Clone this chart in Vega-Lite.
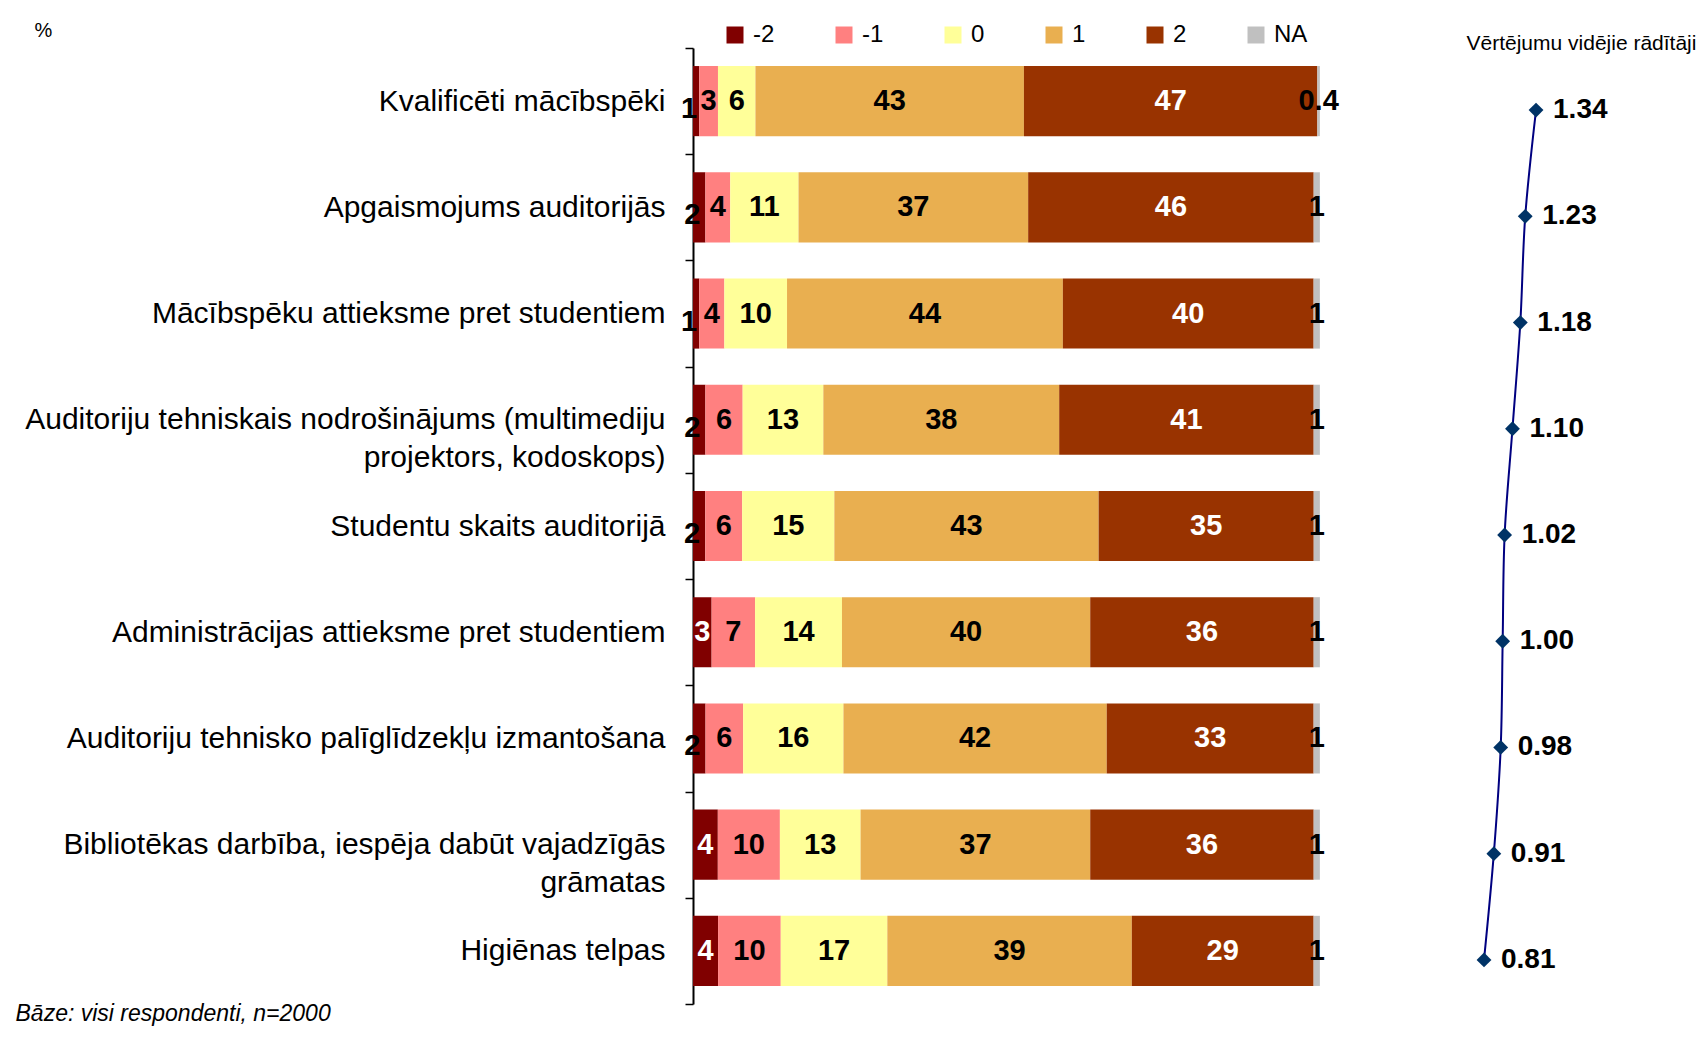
{
  "$schema": "https://vega.github.io/schema/vega-lite/v6.json",
  "width": 1003,
  "height": 956,
  "autosize": {"type": "none"},
  "padding": {"left": 693, "top": 48, "right": 0, "bottom": 51},
  "background": "white",
  "config": {"view": {"stroke": null}, "font": "Liberation Sans"},
  "datasets": {
    "bars": [
      {"row": "Kvalificēti mācībspēki", "cat": "-2", "value": 1},
      {"row": "Kvalificēti mācībspēki", "cat": "-1", "value": 3},
      {"row": "Kvalificēti mācībspēki", "cat": "0", "value": 6},
      {"row": "Kvalificēti mācībspēki", "cat": "1", "value": 43},
      {"row": "Kvalificēti mācībspēki", "cat": "2", "value": 47},
      {"row": "Kvalificēti mācībspēki", "cat": "NA", "value": 0.4},
      {"row": "Apgaismojums auditorijās", "cat": "-2", "value": 2},
      {"row": "Apgaismojums auditorijās", "cat": "-1", "value": 4},
      {"row": "Apgaismojums auditorijās", "cat": "0", "value": 11},
      {"row": "Apgaismojums auditorijās", "cat": "1", "value": 37},
      {"row": "Apgaismojums auditorijās", "cat": "2", "value": 46},
      {"row": "Apgaismojums auditorijās", "cat": "NA", "value": 1},
      {"row": "Mācībspēku attieksme pret studentiem", "cat": "-2", "value": 1},
      {"row": "Mācībspēku attieksme pret studentiem", "cat": "-1", "value": 4},
      {"row": "Mācībspēku attieksme pret studentiem", "cat": "0", "value": 10},
      {"row": "Mācībspēku attieksme pret studentiem", "cat": "1", "value": 44},
      {"row": "Mācībspēku attieksme pret studentiem", "cat": "2", "value": 40},
      {"row": "Mācībspēku attieksme pret studentiem", "cat": "NA", "value": 1},
      {"row": "Auditoriju tehniskais nodrošinājums (multimediju projektors, kodoskops)", "cat": "-2", "value": 2},
      {"row": "Auditoriju tehniskais nodrošinājums (multimediju projektors, kodoskops)", "cat": "-1", "value": 6},
      {"row": "Auditoriju tehniskais nodrošinājums (multimediju projektors, kodoskops)", "cat": "0", "value": 13},
      {"row": "Auditoriju tehniskais nodrošinājums (multimediju projektors, kodoskops)", "cat": "1", "value": 38},
      {"row": "Auditoriju tehniskais nodrošinājums (multimediju projektors, kodoskops)", "cat": "2", "value": 41},
      {"row": "Auditoriju tehniskais nodrošinājums (multimediju projektors, kodoskops)", "cat": "NA", "value": 1},
      {"row": "Studentu skaits auditorijā", "cat": "-2", "value": 2},
      {"row": "Studentu skaits auditorijā", "cat": "-1", "value": 6},
      {"row": "Studentu skaits auditorijā", "cat": "0", "value": 15},
      {"row": "Studentu skaits auditorijā", "cat": "1", "value": 43},
      {"row": "Studentu skaits auditorijā", "cat": "2", "value": 35},
      {"row": "Studentu skaits auditorijā", "cat": "NA", "value": 1},
      {"row": "Administrācijas attieksme pret studentiem", "cat": "-2", "value": 3},
      {"row": "Administrācijas attieksme pret studentiem", "cat": "-1", "value": 7},
      {"row": "Administrācijas attieksme pret studentiem", "cat": "0", "value": 14},
      {"row": "Administrācijas attieksme pret studentiem", "cat": "1", "value": 40},
      {"row": "Administrācijas attieksme pret studentiem", "cat": "2", "value": 36},
      {"row": "Administrācijas attieksme pret studentiem", "cat": "NA", "value": 1},
      {"row": "Auditoriju tehnisko palīglīdzekļu izmantošana", "cat": "-2", "value": 2},
      {"row": "Auditoriju tehnisko palīglīdzekļu izmantošana", "cat": "-1", "value": 6},
      {"row": "Auditoriju tehnisko palīglīdzekļu izmantošana", "cat": "0", "value": 16},
      {"row": "Auditoriju tehnisko palīglīdzekļu izmantošana", "cat": "1", "value": 42},
      {"row": "Auditoriju tehnisko palīglīdzekļu izmantošana", "cat": "2", "value": 33},
      {"row": "Auditoriju tehnisko palīglīdzekļu izmantošana", "cat": "NA", "value": 1},
      {"row": "Bibliotēkas darbība, iespēja dabūt vajadzīgās grāmatas", "cat": "-2", "value": 4},
      {"row": "Bibliotēkas darbība, iespēja dabūt vajadzīgās grāmatas", "cat": "-1", "value": 10},
      {"row": "Bibliotēkas darbība, iespēja dabūt vajadzīgās grāmatas", "cat": "0", "value": 13},
      {"row": "Bibliotēkas darbība, iespēja dabūt vajadzīgās grāmatas", "cat": "1", "value": 37},
      {"row": "Bibliotēkas darbība, iespēja dabūt vajadzīgās grāmatas", "cat": "2", "value": 36},
      {"row": "Bibliotēkas darbība, iespēja dabūt vajadzīgās grāmatas", "cat": "NA", "value": 1},
      {"row": "Higiēnas telpas", "cat": "-2", "value": 4},
      {"row": "Higiēnas telpas", "cat": "-1", "value": 10},
      {"row": "Higiēnas telpas", "cat": "0", "value": 17},
      {"row": "Higiēnas telpas", "cat": "1", "value": 39},
      {"row": "Higiēnas telpas", "cat": "2", "value": 29},
      {"row": "Higiēnas telpas", "cat": "NA", "value": 1}
    ],
    "avg": [
      {"row": "Kvalificēti mācībspēki", "avg": 1.34},
      {"row": "Apgaismojums auditorijās", "avg": 1.23},
      {"row": "Mācībspēku attieksme pret studentiem", "avg": 1.18},
      {"row": "Auditoriju tehniskais nodrošinājums (multimediju projektors, kodoskops)", "avg": 1.10},
      {"row": "Studentu skaits auditorijā", "avg": 1.02},
      {"row": "Administrācijas attieksme pret studentiem", "avg": 1.00},
      {"row": "Auditoriju tehnisko palīglīdzekļu izmantošana", "avg": 0.98},
      {"row": "Bibliotēkas darbība, iespēja dabūt vajadzīgās grāmatas", "avg": 0.91},
      {"row": "Higiēnas telpas", "avg": 0.81}
    ]
  },
  "layer": [
    {
      "data": {"name": "bars"},
      "transform": [
        {"calculate": "indexof(['-2','-1','0','1','2','NA'], datum.cat)", "as": "ord"},
        {"stack": "value", "groupby": ["row"], "sort": [{"field": "ord", "order": "ascending"}], "offset": "normalize", "as": ["s0", "s1"]},
        {"calculate": "(datum.s0 + datum.s1) / 2", "as": "mid"}
      ],
      "layer": [
        {
          "mark": {"type": "bar", "height": {"band": 0.66}},
          "encoding": {
            "y": {
              "field": "row",
              "type": "nominal",
              "scale": {
                "domain": [
                  "Kvalificēti mācībspēki",
                  "Apgaismojums auditorijās",
                  "Mācībspēku attieksme pret studentiem",
                  "Auditoriju tehniskais nodrošinājums (multimediju projektors, kodoskops)",
                  "Studentu skaits auditorijā",
                  "Administrācijas attieksme pret studentiem",
                  "Auditoriju tehnisko palīglīdzekļu izmantošana",
                  "Bibliotēkas darbība, iespēja dabūt vajadzīgās grāmatas",
                  "Higiēnas telpas"
                ],
                "paddingInner": 0,
                "paddingOuter": 0
              },
              "axis": {
                "title": "Bāze: visi respondenti, n=2000",
                "titleAngle": 0,
                "titleAlign": "left",
                "titleBaseline": "middle",
                "titleX": -678,
                "titleY": 965,
                "titleFont": "Liberation Sans",
                "titleFontSize": 23,
                "titleFontStyle": "italic",
                "titleFontWeight": "normal",
                "titleColor": "black",
                "labelFont": "Liberation Sans",
                "labelFontSize": 30,
                "labelColor": "black",
                "labelLimit": 900,
                "labelLineHeight": 38,
                "labelExpr": "datum.value == 'Auditoriju tehniskais nodrošinājums (multimediju projektors, kodoskops)' ? ['Auditoriju tehniskais nodrošinājums (multimediju', 'projektors, kodoskops)\u2002\u2002\u2002\u2002\u2002\u2002\u2002\u2002\u2002\u2002\u2002'] : datum.value == 'Bibliotēkas darbība, iespēja dabūt vajadzīgās grāmatas' ? ['Bibliotēkas darbība, iespēja dabūt vajadzīgās', 'grāmatas\u2002\u2002\u2002\u2002\u2002\u2002\u2002\u2002\u2002\u2002\u2002\u2002\u2002\u2002\u2002\u2002'] : datum.label",
                "labelPadding": 20,
                "tickBand": "extent",
                "tickSize": 8,
                "tickWidth": 1.5,
                "tickColor": "black",
                "domainColor": "black",
                "domainWidth": 2
              }
            },
            "x": {
              "field": "s0",
              "type": "quantitative",
              "scale": {"domain": [0, 1.6], "nice": false, "zero": false},
              "axis": {
                "orient": "bottom",
                "title": "%",
                "labels": false,
                "ticks": false,
                "domain": false,
                "grid": false,
                "titleX": -650,
                "titleY": -974,
                "titleAlign": "center",
                "titleBaseline": "middle",
                "titleFont": "Liberation Sans",
                "titleFontSize": 20,
                "titleFontWeight": "normal",
                "titleColor": "black"
              }
            },
            "x2": {"field": "s1"},
            "color": {
              "field": "cat",
              "type": "nominal",
              "scale": {
                "domain": ["-2", "-1", "0", "1", "2", "NA"],
                "range": ["#800000", "#FF8080", "#FFFF99", "#E9AF50", "#993300", "#C0C0C0"]
              },
              "legend": {
                "orient": "none",
                "direction": "horizontal",
                "legendX": 30,
                "legendY": -25,
                "title": null,
                "padding": 0,
                "symbolType": "square",
                "symbolSize": 289,
                "symbolStrokeWidth": 0,
                "labelFont": "Liberation Sans",
                "labelFontSize": 24,
                "labelColor": "black",
                "labelOffset": 6,
                "columnPadding": 57
              }
            }
          }
        },
        {
          "transform": [{"filter": "!(datum.cat == '-2' && datum.value < 3)"}],
          "mark": {"type": "text", "font": "Liberation Sans", "fontSize": 29, "fontWeight": "bold", "baseline": "middle", "align": "center"},
          "encoding": {
            "y": {"field": "row", "type": "nominal"},
            "x": {"field": "mid", "type": "quantitative"},
            "text": {"field": "value", "type": "quantitative"},
            "color": {
              "condition": {"test": "datum.cat == '2' || (datum.cat == '-2' && datum.value >= 3)", "value": "white"},
              "value": "black"
            }
          }
        },
        {
          "transform": [{"filter": "datum.cat == '-2' && datum.value < 3"}],
          "mark": {"type": "text", "font": "Liberation Sans", "fontSize": 29, "fontWeight": "bold", "baseline": "middle", "align": "center", "dx": -7, "dy": 8, "color": "black"},
          "encoding": {
            "y": {"field": "row", "type": "nominal"},
            "x": {"field": "mid", "type": "quantitative"},
            "text": {"field": "value", "type": "quantitative"}
          }
        }
      ]
    },
    {
      "data": {"name": "avg"},
      "encoding": {
        "y": {"field": "row", "type": "nominal"},
        "x": {
          "field": "avg",
          "type": "quantitative",
          "scale": {"domain": [-7.25, 2.97], "nice": false, "zero": false},
          "axis": {
            "orient": "top",
            "title": "Vērtējumu vidējie rādītāji",
            "labels": false,
            "ticks": false,
            "domain": false,
            "grid": false,
            "titleX": 773,
            "titleY": -5,
            "titleAlign": "left",
            "titleBaseline": "middle",
            "titleFont": "Liberation Sans",
            "titleFontSize": 21,
            "titleFontWeight": "normal",
            "titleColor": "black"
          }
        }
      },
      "layer": [
        {
          "mark": {"type": "line", "color": "#000080", "strokeWidth": 2, "interpolate": "catmull-rom", "yOffset": 9},
          "encoding": {}
        },
        {
          "mark": {"type": "point", "shape": "diamond", "filled": true, "color": "#003366", "size": 220, "opacity": 1, "yOffset": 9}
        },
        {
          "mark": {"type": "text", "font": "Liberation Sans", "fontSize": 28, "fontWeight": "bold", "align": "left", "baseline": "middle", "dx": 17, "dy": 9, "color": "black"},
          "encoding": {"text": {"field": "avg", "type": "quantitative", "format": ".2f"}}
        }
      ]
    }
  ],
  "resolve": {"scale": {"x": "independent"}, "axis": {"x": "independent"}}
}
